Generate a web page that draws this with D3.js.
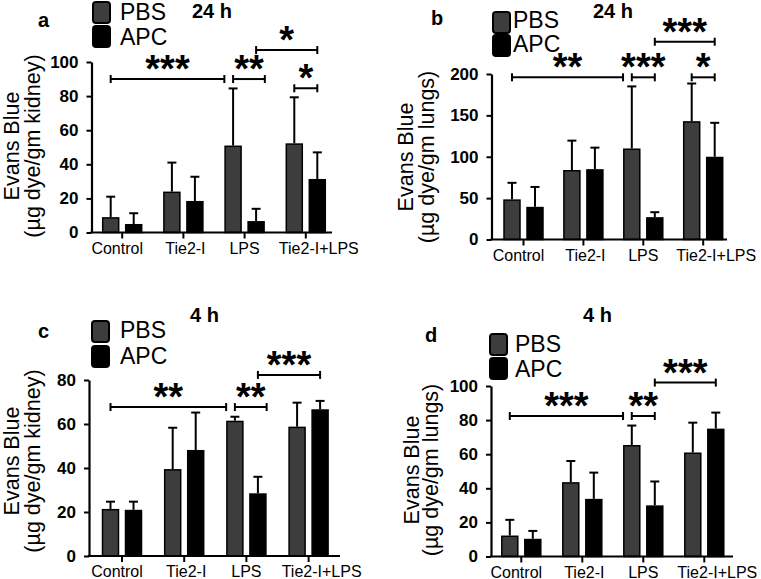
<!DOCTYPE html>
<html><head><meta charset="utf-8">
<script src="https://cdn.jsdelivr.net/npm/d3@7"></script>
<style>
body{margin:0;background:#fff}
svg{display:block}
text{font-family:"Liberation Sans",Arial,Helvetica,sans-serif;fill:#000}
</style>
</head><body>
<svg id="chart" width="761" height="579"></svg>
<script>
// ---------- data ----------
const categories = ["Control", "Tie2-I", "LPS", "Tie2-I+LPS"];
const seriesNames = ["PBS", "APC"];

// a: 24 h, kidney
const kidney24PBS    = [9, 24, 51, 52.3];
const kidney24PBSErr = [12, 17, 33.5, 27];
const kidney24APC    = [5, 18.5, 6.7, 31.4];
const kidney24APCErr = [6.3, 14.2, 7.2, 15.6];
const ticksA = [0, 20, 40, 60, 80, 100];

// b: 24 h, lungs
const lungs24PBS    = [48.5, 84, 110, 143];
const lungs24PBSErr = [20, 35.5, 75, 45.5];
const lungs24APC    = [39.5, 85, 27, 100];
const lungs24APCErr = [24, 26, 6, 41];
const ticksB = [0, 50, 100, 150, 200];

// c: 4 h, kidney
const kidney4PBS    = [21.4, 39.5, 61.5, 58.8];
const kidney4PBSErr = [3.3, 18.8, 1.8, 10.9];
const kidney4APC    = [21, 48.2, 28.5, 66.7];
const kidney4APCErr = [3.7, 17, 7.5, 3.8];
const ticksC = [0, 20, 40, 60, 80];

// d: 4 h, lungs
const lungs4PBS    = [12.3, 43.6, 65.4, 61];
const lungs4PBSErr = [9.2, 12.4, 11.4, 17.5];
const lungs4APC    = [10.4, 33.8, 30, 75];
const lungs4APCErr = [4.6, 15.4, 14, 9.4];
const ticksD = [0, 20, 40, 60, 80, 100];

// significance brackets: [category, series, anchor] -> [category, series, anchor], height in data units
const sigA = [
  {from: ["Control", "PBS", "c"], to: ["LPS", "PBS", "l"], y: 90, label: "***"},
  {from: ["LPS", "PBS", "c"], to: ["LPS", "APC", "r"], y: 90, label: "**"},
  {from: ["LPS", "APC", "c"], to: ["Tie2-I+LPS", "APC", "c"], y: 107, label: "*"},
  {from: ["Tie2-I+LPS", "PBS", "c"], to: ["Tie2-I+LPS", "APC", "c"], y: 84.6, label: "*"}
];
const sigB = [
  {from: ["Control", "PBS", "c"], to: ["LPS", "PBS", "l"], y: 196, label: "**"},
  {from: ["LPS", "PBS", "c"], to: ["LPS", "APC", "c"], y: 196, label: "***"},
  {from: ["LPS", "APC", "c"], to: ["Tie2-I+LPS", "APC", "c"], y: 239, label: "***"},
  {from: ["Tie2-I+LPS", "PBS", "c"], to: ["Tie2-I+LPS", "APC", "c"], y: 196, label: "*"}
];
const sigC = [
  {from: ["Control", "PBS", "c"], to: ["LPS", "PBS", "l"], y: 67.7, label: "**"},
  {from: ["LPS", "PBS", "c"], to: ["LPS", "APC", "r"], y: 67.7, label: "**"},
  {from: ["LPS", "APC", "c"], to: ["Tie2-I+LPS", "APC", "c"], y: 82.3, label: "***"}
];
const sigD = [
  {from: ["Control", "PBS", "c"], to: ["LPS", "PBS", "l"], y: 82.4, label: "***"},
  {from: ["LPS", "PBS", "c"], to: ["LPS", "APC", "c"], y: 82.4, label: "**"},
  {from: ["LPS", "APC", "c"], to: ["Tie2-I+LPS", "APC", "c"], y: 102, label: "***"}
];

// ---------- layout ----------
const colors = {PBS: "#3d3d3d", APC: "#000000"};
const labelShift = [-5, 2, 0, 13];

const panels = [
  {letter: "a", time: "24 h", organ: "(µg dye/gm kidney)",
   pbs: kidney24PBS, pbsErr: kidney24PBSErr, apc: kidney24APC, apcErr: kidney24APCErr, ticks: ticksA, sig: sigA,
   L: {axisX: 91.5, yTop: 62, yBot: 232.5, xEnd: 332, c0: 122.2, step: 61.2,
        letterXY: [38, 27], timeXY: [192, 18], legX: 93, legY: [1, 25], legTX: 120, legTY: [20, 45],
        titleX: [18.5, 40], titleY: 146}},
  {letter: "b", time: "24 h", organ: "(µg dye/gm lungs)",
   pbs: lungs24PBS, pbsErr: lungs24PBSErr, apc: lungs24APC, apcErr: lungs24APCErr, ticks: ticksB, sig: sigB,
   L: {axisX: 491.5, yTop: 74, yBot: 239.5, xEnd: 727, c0: 523.5, step: 59.9,
        letterXY: [431, 25], timeXY: [593, 18], legX: 493, legY: [11, 34], legTX: 513, legTY: [28, 52],
        titleX: [413, 433.5], titleY: 157}},
  {letter: "c", time: "4 h", organ: "(µg dye/gm kidney)",
   pbs: kidney4PBS, pbsErr: kidney4PBSErr, apc: kidney4APC, apcErr: kidney4APCErr, ticks: ticksC, sig: sigC,
   L: {axisX: 89, yTop: 380, yBot: 556, xEnd: 340, c0: 122, step: 62.2,
        letterXY: [38, 338], timeXY: [190, 322], legX: 92, legY: [320, 345], legTX: 120, legTY: [338, 364],
        titleX: [18.5, 40], titleY: 461}},
  {letter: "d", time: "4 h", organ: "(µg dye/gm lungs)",
   pbs: lungs4PBS, pbsErr: lungs4PBSErr, apc: lungs4APC, apcErr: lungs4APCErr, ticks: ticksD, sig: sigD,
   L: {axisX: 491, yTop: 386, yBot: 556.5, xEnd: 733, c0: 521.3, step: 61,
        letterXY: [425, 342], timeXY: [583, 322], legX: 490, legY: [333, 357], legTX: 515, legTY: [352, 377],
        titleX: [418.5, 438], titleY: 470}}
];

const svg = d3.select("#chart");
svg.append("rect").attr("width", 761).attr("height", 579).attr("fill", "#fff");

panels.forEach(p => {
  const L = p.L;
  const g = svg.append("g");
  const yMax = p.ticks[p.ticks.length - 1];
  const y = d3.scaleLinear().domain([0, yMax]).range([L.yBot, L.yTop]);
  const x0 = d3.scaleBand().domain(categories)
    .range([L.c0 - L.step / 2, L.c0 + 3.5 * L.step]).padding(0);
  const x1 = d3.scaleBand().domain(seriesNames)
    .range([-20.25, 20.25]).paddingInner(0.24).paddingOuter(0);
  const center = c => x0(c) + x0.bandwidth() / 2;

  const rows = [];
  categories.forEach((c, i) => {
    rows.push({cat: c, s: "PBS", v: p.pbs[i], e: p.pbsErr[i]});
    rows.push({cat: c, s: "APC", v: p.apc[i], e: p.apcErr[i]});
  });
  const barLeft = d => center(d.cat) + x1(d.s);
  const bw = x1.bandwidth();

  // error bars (drawn first so bars cover the base)
  const eg = g.append("g").attr("stroke", "#000").attr("stroke-width", 2);
  eg.selectAll("line.v").data(rows).join("line")
    .attr("x1", d => barLeft(d) + bw / 2).attr("x2", d => barLeft(d) + bw / 2)
    .attr("y1", d => y(d.v)).attr("y2", d => y(d.v + d.e));
  eg.selectAll("line.h").data(rows).join("line")
    .attr("x1", d => barLeft(d) + bw / 2 - 4.5).attr("x2", d => barLeft(d) + bw / 2 + 4.5)
    .attr("y1", d => y(d.v + d.e)).attr("y2", d => y(d.v + d.e));

  // bars
  g.append("g").selectAll("rect").data(rows).join("rect")
    .attr("x", d => barLeft(d) + 0.75)
    .attr("width", bw - 1.5)
    .attr("y", d => y(d.v) + 0.75)
    .attr("height", d => Math.max(0, y(0) - y(d.v) - 0.75))
    .attr("fill", d => colors[d.s])
    .attr("stroke", "#000").attr("stroke-width", 1.5);

  // y axis
  const ya = g.append("g").attr("transform", `translate(${L.axisX},0)`)
    .call(d3.axisLeft(y).tickValues(p.ticks).tickFormat(d3.format("d"))
      .tickSize(5).tickPadding(8).tickSizeOuter(0));
  ya.select(".domain").attr("stroke", "#000").attr("stroke-width", 2.2);
  ya.selectAll(".tick line").attr("stroke", "#000").attr("stroke-width", 2);
  ya.selectAll(".tick text").attr("font-size", 17).attr("font-weight", "bold")
    .attr("font-family", '"Liberation Sans", Arial, sans-serif').attr("fill", "#000");

  // x axis
  const xa = g.append("g").attr("transform", `translate(0,${L.yBot})`)
    .call(d3.axisBottom(x0).tickSize(6).tickPadding(4).tickSizeOuter(0));
  xa.select(".domain").remove();
  xa.selectAll(".tick line").attr("stroke", "#000").attr("stroke-width", 2);
  xa.selectAll(".tick text").attr("font-size", 16)
    .attr("font-family", '"Liberation Sans", Arial, sans-serif').attr("fill", "#000")
    .attr("dx", (d, i) => labelShift[i]);
  g.append("line").attr("x1", L.axisX - 1.1).attr("x2", L.xEnd)
    .attr("y1", L.yBot).attr("y2", L.yBot)
    .attr("stroke", "#000").attr("stroke-width", 2.2);

  // significance brackets
  const anchorX = a => {
    const left = center(a[0]) + x1(a[1]);
    return a[2] === "l" ? left : a[2] === "r" ? left + bw : left + bw / 2;
  };
  const sg = g.append("g");
  p.sig.forEach(s => {
    const xa1 = anchorX(s.from), xa2 = anchorX(s.to), yy = y(s.y);
    sg.append("line").attr("x1", xa1).attr("x2", xa2).attr("y1", yy).attr("y2", yy)
      .attr("stroke", "#000").attr("stroke-width", 2);
    [xa1, xa2].forEach(xx => sg.append("line").attr("x1", xx).attr("x2", xx)
      .attr("y1", yy - 4).attr("y2", yy + 4).attr("stroke", "#000").attr("stroke-width", 2));
    sg.append("text").attr("x", (xa1 + xa2) / 2).attr("y", yy + 3)
      .attr("text-anchor", "middle").attr("font-size", 38).attr("font-weight", "bold")
      .text(s.label);
  });

  // legend
  seriesNames.forEach((s, i) => {
    g.append("rect").attr("x", L.legX).attr("y", L.legY[i] + 1)
      .attr("width", 17).attr("height", 21).attr("rx", 3)
      .attr("fill", colors[s]).attr("stroke", "#000").attr("stroke-width", 2);
    g.append("text").attr("x", L.legTX).attr("y", L.legTY[i])
      .attr("font-size", 23).text(s);
  });

  // time label and panel letter
  g.append("text").attr("x", L.timeXY[0]).attr("y", L.timeXY[1])
    .attr("font-size", 20).attr("font-weight", "bold").text(p.time);
  g.append("text").attr("x", L.letterXY[0]).attr("y", L.letterXY[1])
    .attr("font-size", 20).attr("font-weight", "bold").text(p.letter);

  // y title (two lines)
  [["Evans Blue", L.titleX[0]], [p.organ, L.titleX[1]]].forEach(([t, xx]) => {
    g.append("text").attr("transform", `translate(${xx},${L.titleY}) rotate(-90)`)
      .attr("text-anchor", "middle").attr("font-size", 21.5).text(t);
  });
});
</script>
</body></html>
